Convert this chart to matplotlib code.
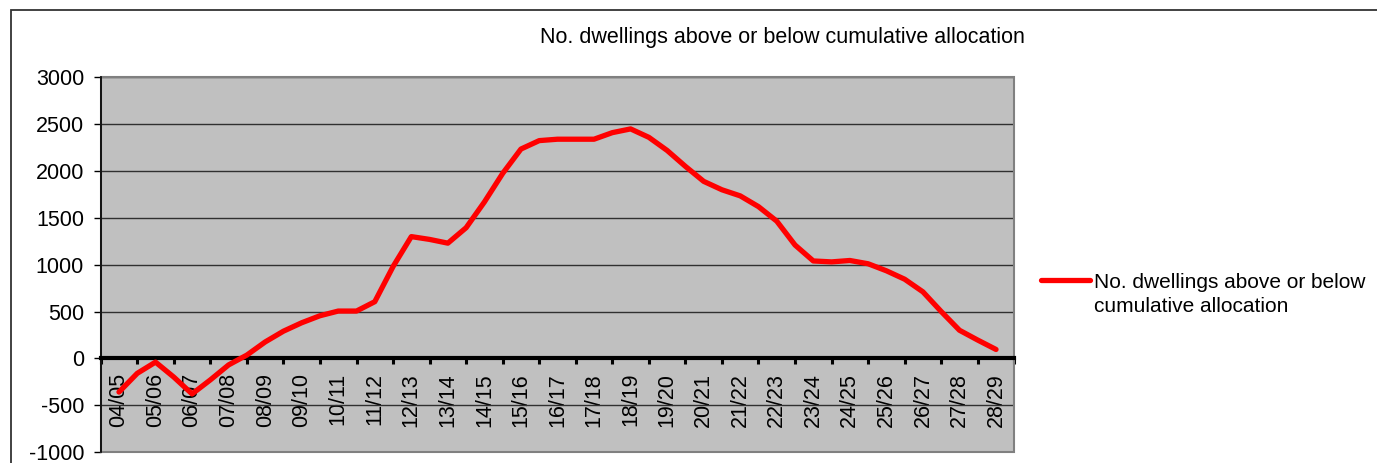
import numpy as np
import matplotlib
matplotlib.use("Agg")
import matplotlib.pyplot as plt
from matplotlib.patches import Rectangle

# financial years shown on the axis
years = ["04/05", "05/06", "06/07", "07/08", "08/09", "09/10", "10/11", "11/12",
         "12/13", "13/14", "14/15", "15/16", "16/17", "17/18", "18/19", "19/20",
         "20/21", "21/22", "22/23", "23/24", "24/25", "25/26", "26/27", "27/28",
         "28/29"]

# half-yearly readings (two per year, last one at 28/29)
dwellings = [-360, -160, -40, -200, -380, -230, -70, 35, 175, 290,
             380, 455, 505, 505, 605, 980, 1300, 1270, 1230, 1395,
             1670, 1975, 2235, 2325, 2340, 2340, 2340, 2410, 2450, 2360,
             2220, 2050, 1890, 1800, 1735, 1620, 1465, 1210, 1040, 1030,
             1045, 1010, 935, 845, 710, 500, 300, 195, 95]

series_name = "No. dwellings above or below cumulative allocation"
legend_lines = ["No. dwellings above or below", "cumulative allocation"]

plt.rcParams['font.family'] = ['Liberation Sans', 'DejaVu Sans']
plt.rcParams['axes.unicode_minus'] = False

W, H = 1377, 463
fig = plt.figure(figsize=(W / 100, H / 100), dpi=100)

# outer chart border
fig.add_artist(Rectangle((11 / W, -0.05), 1.2, 1 - 10 / H + 0.05,
                         transform=fig.transFigure, fill=False,
                         edgecolor='#333333', lw=1.3))

ax = fig.add_axes([100.7 / W, 11 / H, 913.6 / W, (452 - 77.4) / H])
ax.set_facecolor('#C0C0C0')

x = np.arange(len(dwellings)) / 2.0
ax.plot(x, dwellings, color='#FF0000', lw=3.8, solid_capstyle='round',
        solid_joinstyle='round', zorder=3, label=legend_lines[0])

ax.set_xlim(-0.5, len(years) - 0.5)
ax.set_ylim(-1000, 3000)
ax.set_yticks(np.arange(-1000, 3001, 500))
ax.grid(axis='y', color='#303030', lw=1)
ax.tick_params(axis='y', direction='out', length=5, width=1, pad=7,
               labelsize=15.5, color='black')

# category axis sits on zero
ax.spines['bottom'].set_position(('data', 0))
ax.spines['bottom'].set_linewidth(3)
ax.spines['bottom'].set_color('black')
ax.spines['left'].set_color('black')
ax.spines['left'].set_linewidth(1.2)
ax.spines['top'].set_visible(False)
ax.spines['right'].set_visible(False)

ax.set_xticks(np.arange(len(years)))
ax.set_xticklabels(years, rotation=90, va='top')
ax.set_xticks(np.arange(len(years) + 1) - 0.5, minor=True)
ax.tick_params(axis='x', which='major', length=0, pad=10.5, labelsize=15.5)
ax.tick_params(axis='x', which='minor', direction='out', length=4, width=2.2,
               color='black')

# grey plot area frame
ax.add_patch(Rectangle((0, 0), 1, 1, transform=ax.transAxes, fill=False,
                       edgecolor='#808080', lw=1.5, zorder=2.4, clip_on=False))

fig.text(782.5 / W, 1 - 37 / H, series_name, ha='center', va='center',
         fontsize=15.5)

ax.legend(loc='center left', bbox_to_anchor=((1041 - 100.7) / 913.6, (452 - 282) / 374.6),
          frameon=False, fontsize=15, handlelength=2.35, handletextpad=0.2,
          borderaxespad=0, borderpad=0)
fig.text(1094 / W, 1 - 306 / H, legend_lines[1], ha='left', va='center',
         fontsize=15)

fig.savefig("out.png", dpi=100)
